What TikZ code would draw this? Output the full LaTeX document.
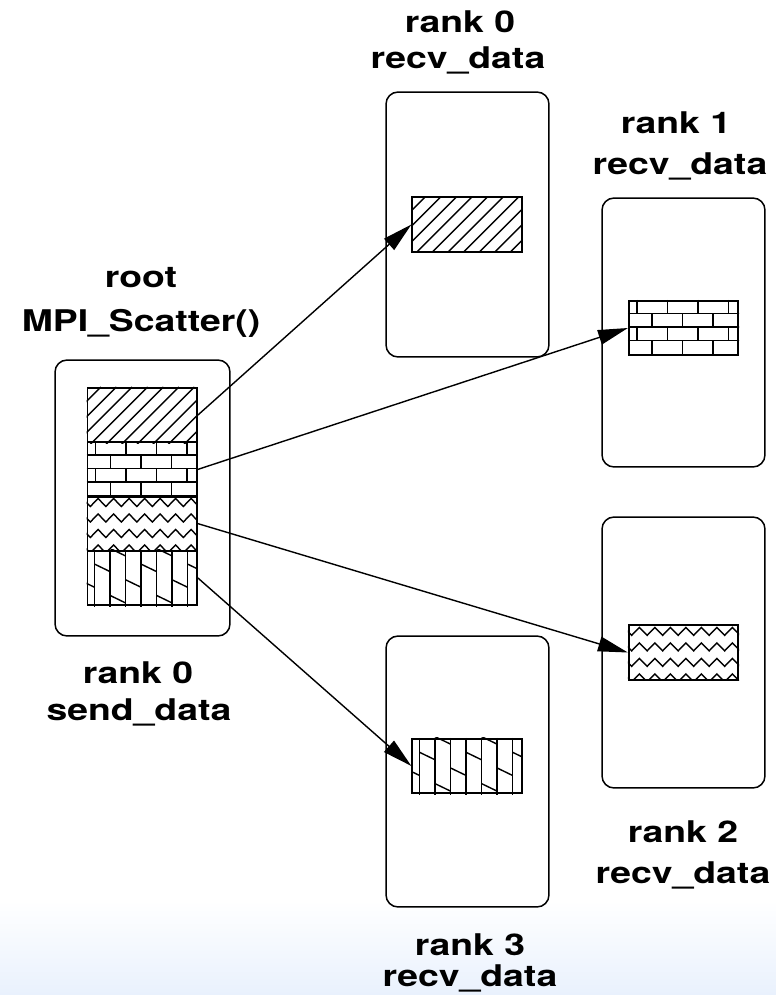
\documentclass[tikz,border=0pt]{standalone}
\usepackage{fontspec}
\newfontfamily\lblfont{TeX Gyre Heros}[FakeStretch=1.25]
\usetikzlibrary{arrows.meta}
\definecolor{bgblue}{RGB}{233,241,253}

\tikzset{
  procbox/.style={draw, line width=0.85pt, rounded corners=0.24cm, minimum width=3.26cm},
  datablk/.style={draw, line width=1pt, inner sep=0pt, minimum width=2.19cm, minimum height=1.09cm},
  lbl/.style={font=\fontsize{17}{20}\lblfont\bfseries, anchor=base, inner sep=0pt},
  arr/.style={-{Triangle[length=17pt,width=8.5pt]}, line width=0.8pt},
}

% fill patterns, drawn in px from the block's top left corner
\newcommand\blkfill[2]{%
  \begin{scope}
    \clip (#1.north west) rectangle (#1.south east);
    \begin{scope}[shift={(#1.north west)}, line width=0.8pt] #2 \end{scope}
  \end{scope}}
\newcommand\hatchpat{%
  \foreach \s in {-61.3,-45.7,...,112} \draw (\s,60) -- ++(60,-60);}
\newcommand\brickpat{%
  \foreach \r in {1,2,3} \draw (0,{13.6*\r}) -- (120,{13.6*\r});
  \foreach \r in {0,2} \foreach \c in {0,...,3} \draw ({9+30.5*\c},{13.6*\r}) -- ++(0,13.6);
  \foreach \r in {1,3} \foreach \c in {0,...,2} \draw ({24+30.5*\c},{13.6*\r}) -- ++(0,13.6);}
\newcommand\zigpat{%
  \foreach \r in {0,...,3}
    \draw (-4,{3+15.5*\r}) \foreach \k in {0,...,7} {-- ++(7.75,8) -- ++(7.75,-8)};}
\newcommand\shinglepat{%
  \foreach \j in {0,...,6} \draw ({8+15.5*\j},0) -- ++(0,60);
  \foreach \i in {0,...,7} \foreach \m in {-2,...,2}
    \draw ({8+15.5*(\i-1)},{30-15.67*\i+47*\m}) -- ++(15.5,7.5);}

\begin{document}
\begin{tikzpicture}[x=0.02cm, y=-0.02cm]
    \useasboundingbox (0,0) rectangle (776,995);
    \shade[top color=white, bottom color=bgblue] (0,900) rectangle (776,995);

    % process boxes
    \node[procbox, minimum width=3.5cm, minimum height=5.52cm] (root) at (142.5,498) {};
    \node[procbox, minimum height=5.3cm] (proc0) at (467.5,224.5) {};
    \node[procbox, minimum height=5.38cm] (proc1) at (683.5,332.5) {};
    \node[procbox, minimum height=5.42cm] (proc2) at (683.5,652.5) {};
    \node[procbox, minimum height=5.42cm] (proc3) at (467.5,771.5) {};

    % send buffer on the root
    \node[datablk] (senda) at (142.2,415.1) {};
    \node[datablk] (sendb) at (142.2,469.4) {};
    \node[datablk] (sendc) at (142.2,523.6) {};
    \node[datablk] (sendd) at (142.2,577.9) {};

    % receive buffers
    \node[datablk] (recv0) at (467,224.5) {};
    \node[datablk] (recv1) at (683.5,328) {};
    \node[datablk] (recv2) at (683.5,652.5) {};
    \node[datablk] (recv3) at (467,766) {};

    \blkfill{senda}{\hatchpat}
    \blkfill{recv0}{\hatchpat}
    \blkfill{sendb}{\brickpat}
    \blkfill{recv1}{\brickpat}
    \blkfill{sendc}{\zigpat}
    \blkfill{recv2}{\zigpat}
    \blkfill{sendd}{\shinglepat}
    \blkfill{recv3}{\shinglepat}

    \draw[arr] (senda.east) -- (recv0.west);
    \draw[arr] (sendb.east) -- (recv1.west);
    \draw[arr] (sendc.east) -- (recv2.west);
    \draw[arr] (sendd.east) -- (recv3.west);

    % labels
    \node[lbl] (rootname) at (141,287) {root};
    \node[lbl] (rootcall) at (141,331) {MPI\_Scatter()};
    \node[lbl] (sendrank) at (138,683) {rank 0};
    \node[lbl] (sendname) at (139,720) {send\_data};
    \node[lbl] (rank0) at (460,32) {rank 0};
    \node[lbl] (recvname0) at (458,68) {recv\_data};
    \node[lbl] (rank1) at (676,133) {rank 1};
    \node[lbl] (recvname1) at (680,174) {recv\_data};
    \node[lbl] (rank2) at (683,842) {rank 2};
    \node[lbl] (recvname2) at (683,883) {recv\_data};
    \node[lbl] (rank3) at (470,955) {rank 3};
    \node[lbl] (recvname3) at (470,986) {recv\_data};
\end{tikzpicture}
\end{document}
